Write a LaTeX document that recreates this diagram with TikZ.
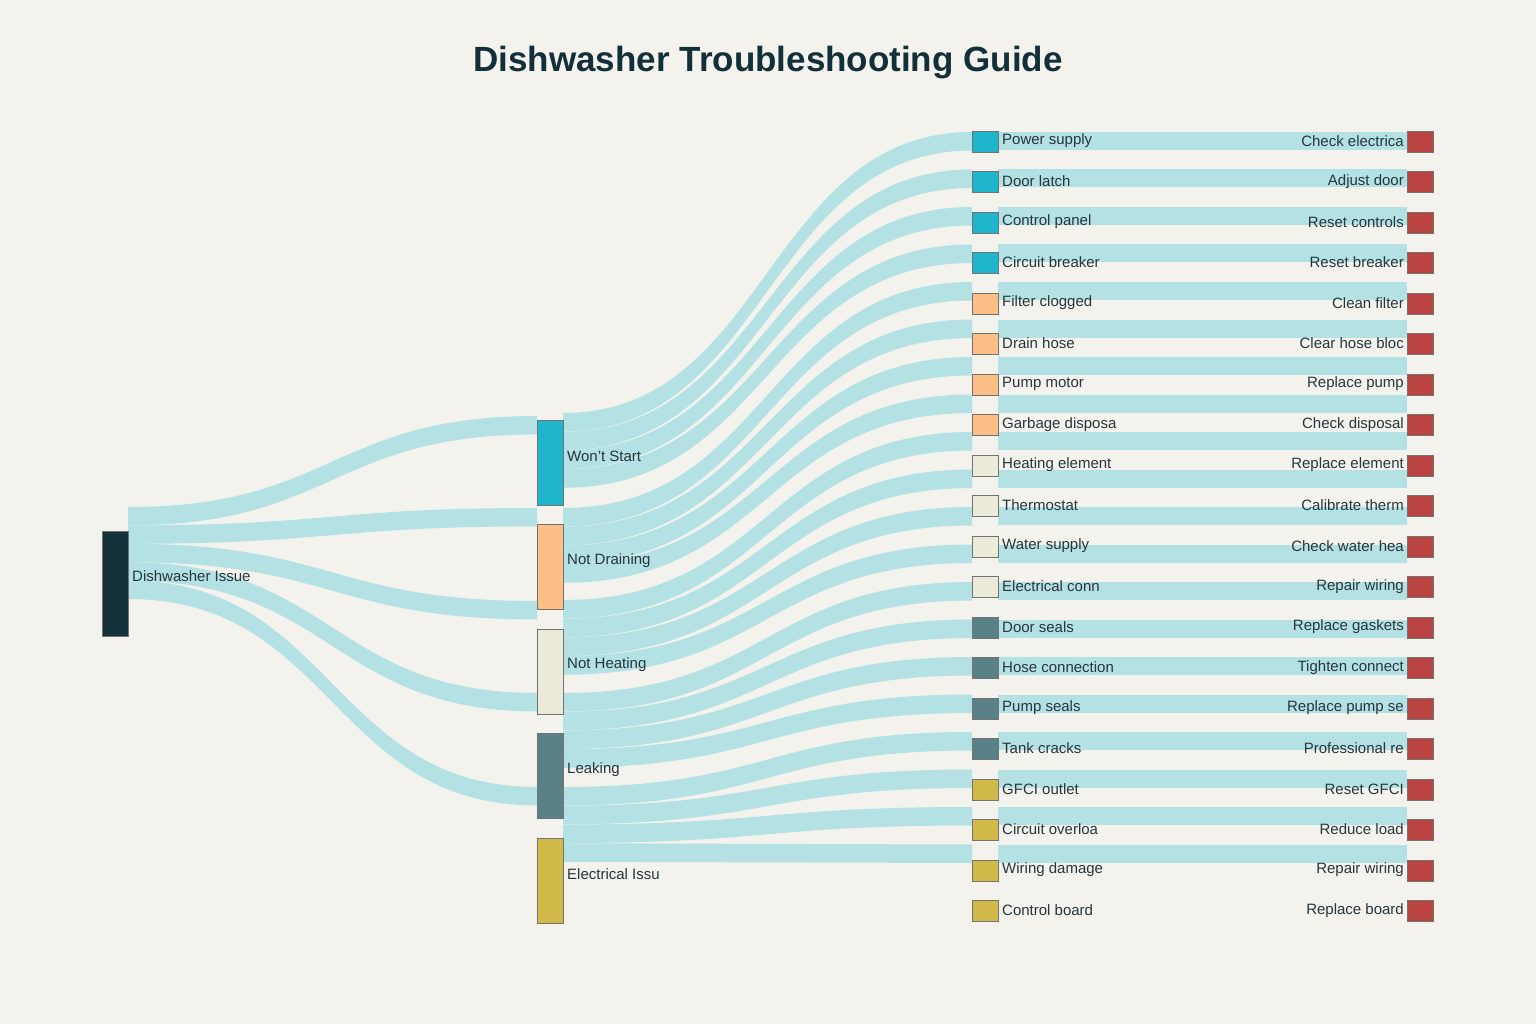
\documentclass[tikz,border=0pt]{standalone}
\usepackage{fontspec}
\setmainfont{Liberation Sans}
\definecolor{bg}{HTML}{F3F2EC}
\definecolor{linkc}{HTML}{B3E1E4}
\definecolor{c0}{HTML}{13303A}
\definecolor{c1}{HTML}{1FB5CC}
\definecolor{c2}{HTML}{FDBF86}
\definecolor{c3}{HTML}{ECEAD9}
\definecolor{c4}{HTML}{5A8088}
\definecolor{c5}{HTML}{D1B94A}
\definecolor{cr}{HTML}{B94442}
\definecolor{txt}{HTML}{27363C}
\newcommand\band[5]{%
  \pgfmathsetmacro\bA{#1}\pgfmathsetmacro\bB{#2}\pgfmathsetmacro\bC{#3}%
  \pgfmathsetmacro\bD{#4}\pgfmathsetmacro\bW{#5}%
  \pgfmathsetmacro\bM{(\bA+\bC)/2}\pgfmathsetmacro\bBW{\bB+\bW}\pgfmathsetmacro\bDW{\bD+\bW}%
  \fill[linkc] (\bA,\bB) .. controls (\bM,\bB) and (\bM,\bD) .. (\bC,\bD) -- (\bC,\bDW) .. controls (\bM,\bDW) and (\bM,\bBW) .. (\bA,\bBW) -- cycle;}
\begin{document}
\begin{tikzpicture}[x=1pt,y=-1pt,
  box/.style={draw=black!55,line width=0.6pt,minimum width=26pt,inner sep=0pt},
  lbl/.style={text=txt,font=\fontsize{15}{18}\selectfont,inner sep=0pt}]
\fill[bg] (0,0) rectangle (1536,1024);
\useasboundingbox (0,0) rectangle (1536,1024);
\node[text=c0,font=\fontsize{35}{40}\selectfont\bfseries] (title) at (768,63) {Dishwasher Troubleshooting Guide};
% level 0 -> 1
\foreach \g/\e in {0/416,1/508,2/601,3/693,4/787}{
  \band{128}{507+18.4*\g}{537}{\e}{18.4}}
% level 1 -> 2
\foreach \g/\S in {0/413,1/508,2/600,3/693,4/787}{
  \foreach \i in {0,...,3}{
    \band{563}{\S+18.75*\i}{972}{132+37.5*(4*\g+\i)}{18.5}}}
% level 2 -> 3
\foreach \k in {0,...,19}{
  \fill[linkc] (998,{132+37.5*\k}) rectangle (1407,{150+37.5*\k});}
% nodes
\node[box,fill=c0,minimum height=105pt] (root) at (115,583.5) {};
\node[lbl,anchor=west] (rootl) at (132,576) {Dishwasher Issue};
\foreach \n/\t/\c [count=\j from 0] in {ws/Won't Start/c1,nd/Not Draining/c2,nh/Not Heating/c3,lk/Leaking/c4,el/Electrical Issu/c5}{
  \node[box,fill=\c,minimum height=85pt] (\n) at (550,{462.5+104.5*\j}) {};
  \node[lbl,anchor=west] (\n l) at (567,{456+104.5*\j}) {\t};
}
\foreach \t/\r/\c [count=\k from 0] in {
 Power supply/Check electrica/c1, Door latch/Adjust door/c1, Control panel/Reset controls/c1, Circuit breaker/Reset breaker/c1,
 Filter clogged/Clean filter/c2, Drain hose/Clear hose bloc/c2, Pump motor/Replace pump/c2, Garbage disposa/Check disposal/c2,
 Heating element/Replace element/c3, Thermostat/Calibrate therm/c3, Water supply/Check water hea/c3, Electrical conn/Repair wiring/c3,
 Door seals/Replace gaskets/c4, Hose connection/Tighten connect/c4, Pump seals/Replace pump se/c4, Tank cracks/Professional re/c4,
 GFCI outlet/Reset GFCI/c5, Circuit overloa/Reduce load/c5, Wiring damage/Repair wiring/c5, Control board/Replace board/c5}{
  \node[box,fill=\c,minimum height=21pt] (p\k) at (985,{141.5+40.5*\k}) {};
  \node[lbl,anchor=west] (pl\k) at (1002,{141+40.5*\k}) {\t};
  \node[box,fill=cr,minimum height=21pt] (s\k) at (1420,{141.5+40.5*\k}) {};
  \node[lbl,anchor=east] (sl\k) at (1404,{141+40.5*\k}) {\r};
}
\end{tikzpicture}
\end{document}
